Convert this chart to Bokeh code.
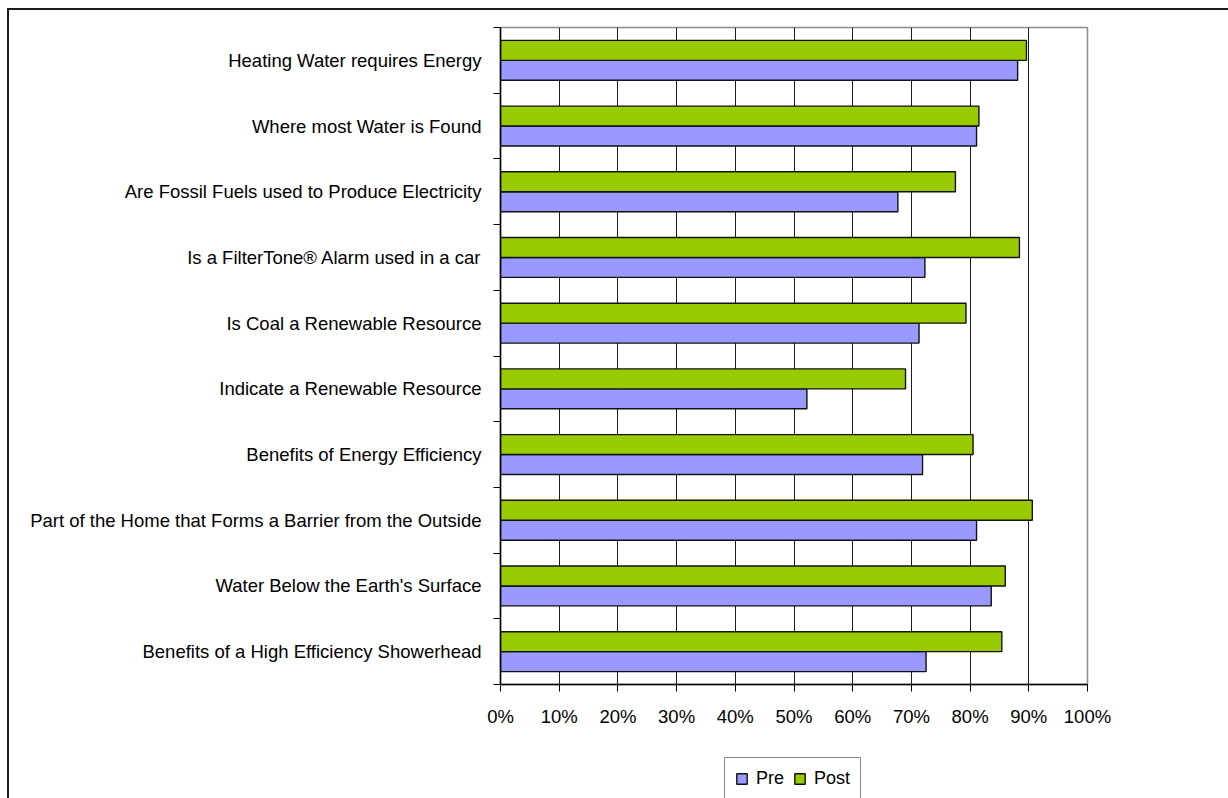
from bokeh.plotting import figure
from bokeh.layouts import column
from bokeh.models import (ColumnDataSource, FixedTicker, PrintfTickFormatter,
                          Legend, LegendItem, Range1d)
from bokeh.embed import file_html
from bokeh.resources import INLINE

# Survey questions, listed top to bottom
questions = [
    "Heating Water requires Energy",
    "Where most Water is Found",
    "Are Fossil Fuels used to Produce Electricity",
    "Is a FilterTone\u00ae Alarm used in a car",
    "Is Coal a Renewable Resource",
    "Indicate a Renewable Resource",
    "Benefits of Energy Efficiency",
    "Part of the Home that Forms a Barrier from the Outside",
    "Water Below the Earth's Surface",
    "Benefits of a High Efficiency Showerhead",
]
# Share of correct answers (%)
pre = [88.1, 81.1, 67.7, 72.3, 71.3, 52.2, 71.9, 81.1, 83.6, 72.5]
post = [89.6, 81.5, 77.5, 88.4, 79.3, 69.0, 80.5, 90.6, 86.0, 85.4]
x_ticks = [0, 10, 20, 30, 40, 50, 60, 70, 80, 90, 100]
series = ["Pre", "Post"]

FONT = "Liberation Sans"
PRE_COLOR = "#9999FF"
POST_COLOR = "#99CC00"
BAR_H = 0.304

n = len(questions)
centers = [n - 1 - i + 0.5 for i in range(n)]

pre_src = ColumnDataSource(dict(y=[c - BAR_H / 2 for c in centers], v=pre))
post_src = ColumnDataSource(dict(y=[c + BAR_H / 2 for c in centers], v=post))

bar_style = dict(line_color="#111111", line_width=1.4)

# ---- main bar chart -------------------------------------------------------
p = figure(width=1228, height=740, output_backend="svg", toolbar_location=None,
           x_range=Range1d(0, 100), y_range=Range1d(0, n),
           min_border_left=500, min_border_right=141,
           min_border_top=27, min_border_bottom=56,
           background_fill_color="white", border_fill_alpha=0)

p.outline_line_color = "#8c8c8c"
p.outline_line_width = 1.5

p.hbar(y="y", left=0, right="v", height=BAR_H, source=pre_src,
       fill_color=PRE_COLOR, **bar_style)
p.hbar(y="y", left=0, right="v", height=BAR_H, source=post_src,
       fill_color=POST_COLOR, **bar_style)

# vertical gridlines every 10%
p.xgrid.ticker = FixedTicker(ticks=x_ticks)
p.xgrid.grid_line_color = "#1a1a1a"
p.xgrid.grid_line_width = 1
p.ygrid.grid_line_color = None

# x axis: percentages
xa = p.xaxis[0]
xa.ticker = FixedTicker(ticks=x_ticks)
xa.formatter = PrintfTickFormatter(format="%d%%")
xa.axis_line_color = "black"
xa.axis_line_width = 1.5
xa.major_tick_out = 7
xa.major_tick_in = 0
xa.major_tick_line_color = "black"
xa.minor_tick_line_color = None
xa.major_label_text_font = FONT
xa.major_label_text_font_size = "18.5px"
xa.major_label_text_color = "black"
xa.major_label_standoff = 14

# y axis: question labels at band centres, ticks at band boundaries
ya = p.yaxis[0]
ya.ticker = FixedTicker(ticks=centers, minor_ticks=list(range(n + 1)))
ya.major_label_overrides = {c: q for c, q in zip(centers, questions)}
ya.axis_line_color = "black"
ya.axis_line_width = 1.5
ya.major_tick_out = 0
ya.major_tick_in = 0
ya.major_tick_line_color = None
ya.minor_tick_out = 7
ya.minor_tick_in = 0
ya.minor_tick_line_color = "black"
ya.minor_tick_line_width = 1
ya.major_label_text_font = FONT
ya.major_label_text_font_size = "18.5px"
ya.major_label_text_color = "black"
ya.major_label_standoff = 12

# ---- legend strip under the chart ----------------------------------------
# Its frame lines up with the chart frame above, so the legend is placed
# relative to the 0% axis. The key renderers share the bar sources but are
# hidden; the legend still paints their swatches.
lg = figure(width=1228, height=58, output_backend="svg", toolbar_location=None,
            x_range=Range1d(0, 100), y_range=Range1d(0, n),
            x_axis_location=None, y_axis_location=None,
            min_border_left=0, min_border_right=0,
            min_border_top=0, min_border_bottom=0,
            background_fill_alpha=0, border_fill_alpha=0)
lg.outline_line_color = None
lg.grid.grid_line_color = None

key_pre = lg.hbar(y="y", left=0, right="v", height=BAR_H, source=pre_src,
                  fill_color=PRE_COLOR, visible=False, **bar_style)
key_post = lg.hbar(y="y", left=0, right="v", height=BAR_H, source=post_src,
                   fill_color=POST_COLOR, visible=False, **bar_style)

legend = Legend(items=[LegendItem(label=series[0], renderers=[key_pre]),
                       LegendItem(label=series[1], renderers=[key_post])],
                orientation="horizontal", location=(224, -2),
                glyph_width=13, glyph_height=13, label_height=21,
                label_standoff=8, spacing=9, padding=10, margin=0,
                label_text_font=FONT, label_text_font_size="18px",
                label_text_color="black",
                inactive_fill_alpha=0,
                border_line_color="#1a1a1a", border_line_width=1,
                background_fill_color="white", background_fill_alpha=1)
lg.add_layout(legend, "center")

# chart-area frame (left and top edges) painted behind both transparent canvases
frame_css = ("linear-gradient(#1a1a1a, #1a1a1a) 7px 8px / 2px 100% no-repeat, "
             "linear-gradient(#1a1a1a, #1a1a1a) 7px 8px / 100% 2px no-repeat, "
             "white")

layout = column(p, lg, spacing=0, styles={"background": frame_css})

open("out.html", "w").write(file_html(layout, INLINE))
